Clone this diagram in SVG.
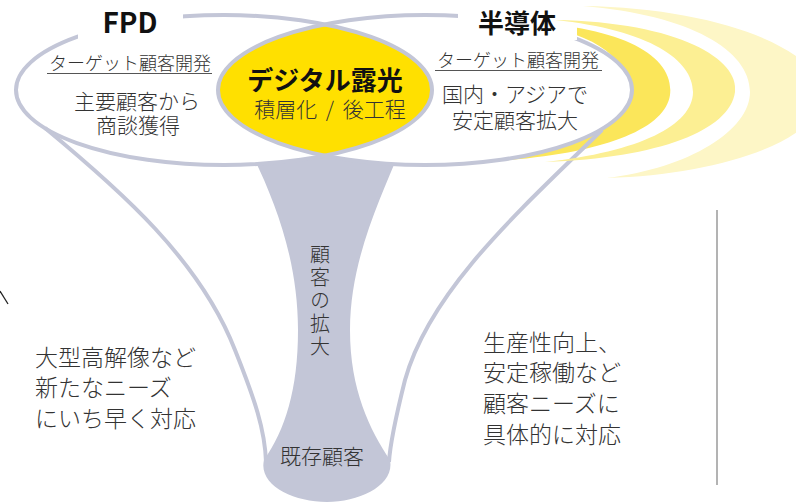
<svg xmlns="http://www.w3.org/2000/svg" width="796" height="503" viewBox="0 0 796 503">
<style>
.t{font-family:"Noto Sans CJK JP","Noto Sans",sans-serif;fill:#333;font-weight:300}
.b{font-family:"Noto Sans CJK JP","Noto Sans",sans-serif;fill:#111;font-weight:700}
.ln{fill:none;stroke:#c3c6d7;stroke-width:4}
.ul{stroke:#555;stroke-width:1.2}
</style>
<defs>
<clipPath id="clipL"><ellipse cx="224" cy="90" rx="208" ry="75"/></clipPath>
</defs>
<rect width="796" height="503" fill="#fff"/>
<g id="beam1">
<path d="M515,22 C620,25 675,55 670,95 C665,130 600,156 480,162 C580,150 628,125 628,92 C628,55 590,30 515,22 Z" fill="#fbe65a"/>
</g>
<g id="funnel">
<path d="M250,150 L400,150 C380,200 350,260 350,330 C350,390 370,430 390,460 C395,485 360,502 327,502 C293,502 258,485 264,460 C285,430 298,390 298,330 C298,260 275,200 250,150 Z" fill="#c3c6d7"/>
</g>
<g id="fpd">
<ellipse cx="224" cy="90" rx="208" ry="75" fill="#fff"/>
</g>
<g id="semi">
<ellipse cx="425" cy="90" rx="207" ry="75" fill="#fff"/>
</g>
<g id="lens">
<ellipse cx="425" cy="90" rx="207" ry="75" fill="#ffe000" clip-path="url(#clipL)"/>
</g>
<g id="outlines">
<ellipse class="ln" cx="224" cy="90" rx="208" ry="75"/>
<ellipse class="ln" cx="425" cy="90" rx="207" ry="75"/>
</g>
<g id="connectors">
<path class="ln" d="M45,128 C120,190 200,260 235,350 C255,400 265,430 266,462"/>
<path class="ln" d="M602,130 C520,210 430,290 405,380 C395,420 390,445 389,462"/>
</g>
<rect x="78" y="0" width="105" height="40" fill="#fff"/>
<rect x="458" y="0" width="119" height="40" fill="#fff"/>
<g id="beam2">
<path d="M555,20 C680,22 740,60 735,92 C730,130 660,158 545,162 C640,152 693,125 693,92 C693,60 650,30 555,20 Z" fill="#fcef93"/>
</g>
<g id="beam3">
<path d="M583,6 C720,8 822,50 822,95 C822,140 720,175 607,178 C690,168 750,130 750,92 C750,50 690,15 583,6 Z" fill="#fdf6c6"/>
</g>
<line x1="717" y1="210" x2="717" y2="485" stroke="#9a9a9a" stroke-width="1.5"/>
<line x1="0" y1="291" x2="8" y2="304" stroke="#222" stroke-width="1.3"/>
<g id="fpd-text">
<text class="b" x="130" y="33" font-size="28" text-anchor="middle" font-family="Noto Sans">FPD</text>
<text class="t" x="130" y="70" font-size="18" text-anchor="middle" fill="#444">ターゲット顧客開発</text>
<line class="ul" x1="47" y1="73.5" x2="212" y2="73.5"/>
<text class="t" x="137" y="109" font-size="21" text-anchor="middle">主要顧客から</text>
<text class="t" x="138" y="133" font-size="21" text-anchor="middle">商談獲得</text>
</g>
<g id="semi-text">
<text class="b" x="517" y="33" font-size="26" text-anchor="middle">半導体</text>
<text class="t" x="518" y="67" font-size="18" text-anchor="middle" fill="#444">ターゲット顧客開発</text>
<line class="ul" x1="435" y1="70.5" x2="602" y2="70.5"/>
<text class="t" x="515" y="102" font-size="21" text-anchor="middle">国内・アジアで</text>
<text class="t" x="515" y="128" font-size="21" text-anchor="middle">安定顧客拡大</text>
</g>
<g id="lens-text">
<text class="b" x="325" y="90" font-size="26" text-anchor="middle">デジタル露光</text>
<text class="t" x="330" y="117" font-size="21" text-anchor="middle" word-spacing="4">積層化 / 後工程</text>
</g>
<g id="funnel-text">
<text class="t" x="320" y="244" font-size="20" writing-mode="vertical-rl" letter-spacing="3">顧客の拡大</text>
<text class="t" x="322" y="464" font-size="21" text-anchor="middle">既存顧客</text>
</g>
<g id="left-text">
<text class="t" x="35" y="366" font-size="23">大型高解像など</text>
<text class="t" x="35" y="396" font-size="23">新たなニーズ</text>
<text class="t" x="35" y="427" font-size="23">にいち早く対応</text>
</g>
<g id="right-text">
<text class="t" x="483" y="351" font-size="23">生産性向上、</text>
<text class="t" x="483" y="381" font-size="23">安定稼働など</text>
<text class="t" x="483" y="412" font-size="23">顧客ニーズに</text>
<text class="t" x="483" y="443" font-size="23">具体的に対応</text>
</g>
</svg>
